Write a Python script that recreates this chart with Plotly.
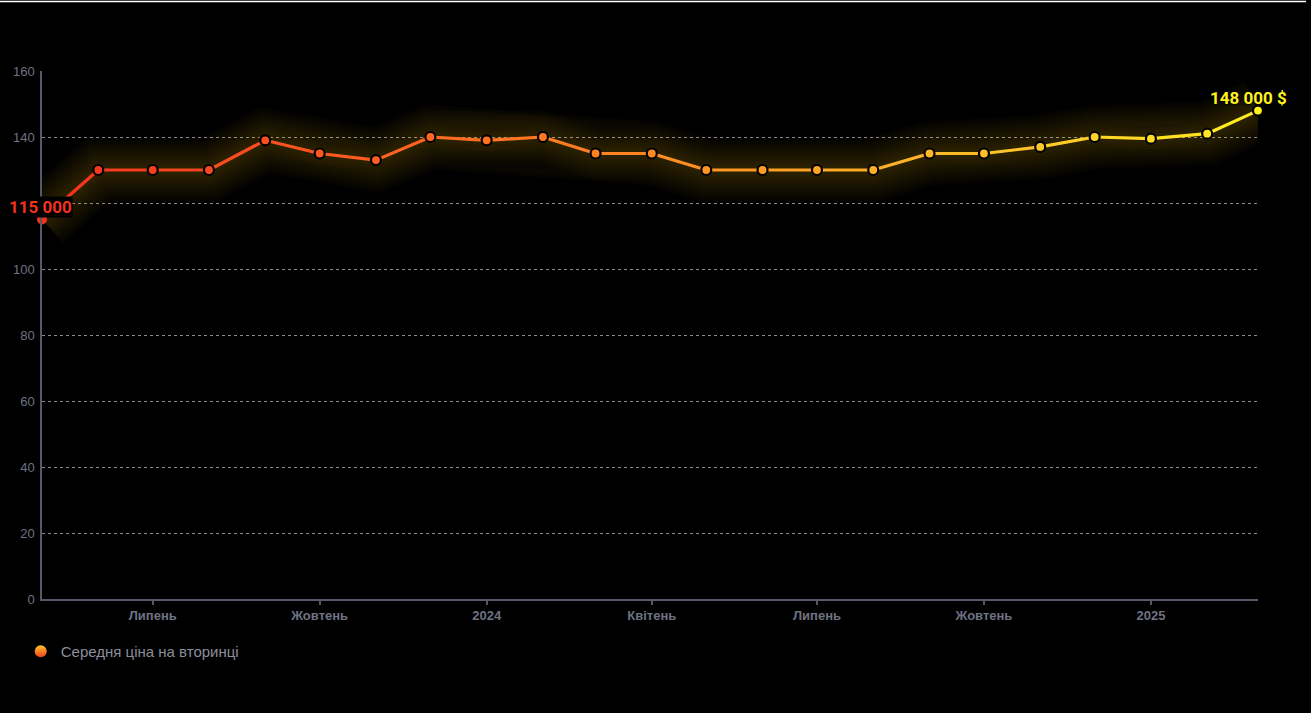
import plotly.graph_objects as go
from plotly.colors import sample_colorscale

# Monthly average price on the secondary market, thousands of $
months = [
    "2023-05-01", "2023-06-01", "2023-07-01", "2023-08-01", "2023-09-01",
    "2023-10-01", "2023-11-01", "2023-12-01", "2024-01-01", "2024-02-01",
    "2024-03-01", "2024-04-01", "2024-05-01", "2024-06-01", "2024-07-01",
    "2024-08-01", "2024-09-01", "2024-10-01", "2024-11-01", "2024-12-01",
    "2025-01-01", "2025-02-01", "2025-03-01",
]
price = [115, 130, 130, 130, 139, 135, 133, 140, 139, 140, 135, 135,
         130, 130, 130, 130, 135, 135, 137, 140, 139.5, 141, 148]

tick_dates = ["2023-07-01", "2023-10-01", "2024-01-01", "2024-04-01",
              "2024-07-01", "2024-10-01", "2025-01-01"]
tick_labels = ["Липень", "Жовтень", "2024", "Квітень", "Липень", "Жовтень", "2025"]
y_ticks = [0, 20, 40, 60, 80, 100, 120, 140, 160]

series_name = "Середня ціна на вторинці"
first_label = "115 000"
last_label = "148 000 $"

scale = [[0.0, "#f2321d"], [0.3, "#ff6420"], [0.55, "#ff9424"],
         [0.8, "#ffc42a"], [1.0, "#fff01e"]]
n = len(price)
pt_colors = sample_colorscale(scale, [i / (n - 1) for i in range(n)])

fig = go.Figure()

# soft glow under the line: many faint wide strokes stacked
for w in range(64, 4, -6):
    fig.add_trace(go.Scatter(
        x=months, y=price, mode="lines",
        line=dict(color="rgba(255,196,40,0.018)", width=w),
        hoverinfo="skip", showlegend=False))

# gradient line drawn segment by segment
for i in range(n - 1):
    seg_col = sample_colorscale(scale, [(i + 0.5) / (n - 1)])[0]
    fig.add_trace(go.Scatter(
        x=months[i:i + 2], y=price[i:i + 2], mode="lines",
        line=dict(color=seg_col, width=3.2),
        hoverinfo="skip", showlegend=False))

line_w = [0] + [2.2] * (n - 1)
fig.add_trace(go.Scatter(
    x=months, y=price, mode="markers", cliponaxis=False,
    marker=dict(size=10, color=pt_colors,
                line=dict(color="#000000", width=line_w)),
    showlegend=False,
    hovertemplate="%{x|%b %Y}: %{y}<extra></extra>"))

# legend entry
fig.add_trace(go.Scatter(
    x=[None], y=[None], mode="markers", name=series_name,
    marker=dict(size=13, color="#ffc52a",
                gradient=dict(type="vertical", color="#f2401d"),
                line=dict(width=0))))

fig.add_annotation(x=months[0], y=price[0], text=f"<b>{first_label}</b>",
                   showarrow=False, yshift=13, xshift=-2,
                   bgcolor="#000000", borderpad=0,
                   font=dict(family="Roboto, sans-serif", size=17,
                             color=pt_colors[0], shadow="0 0 3px #000, 0 0 2px #000"))
fig.add_annotation(x=months[-1], y=price[-1], text=f"<b>{last_label}</b>",
                   showarrow=False, yshift=13, xshift=-10,
                   font=dict(family="Roboto, sans-serif", size=17,
                             color=pt_colors[-1], shadow="0 0 3px #000, 0 0 2px #000"))

# thin frame edge across the top
fig.add_shape(type="line", xref="paper", yref="paper",
              x0=-0.04, x1=1.0395, y0=1 + 69.5 / 528, y1=1 + 69.5 / 528,
              line=dict(color="#ffffff", width=1.5))

axis_col = "#555867"
tick_col = "#6f7282"

fig.update_layout(
    width=1311, height=713,
    margin=dict(l=42, r=53, t=71, b=114),
    paper_bgcolor="#000000", plot_bgcolor="#000000",
    font=dict(family="Liberation Sans, Arial, sans-serif", color=tick_col),
    showlegend=True,
    legend=dict(orientation="h", x=-0.0175, xanchor="left", y=-0.068, yanchor="top",
                font=dict(size=15, color="#8b8e9c"), itemsizing="constant",
                bgcolor="rgba(0,0,0,0)"),
    xaxis=dict(
        type="date", range=["2023-05-01", "2025-03-01"],
        tickvals=tick_dates, ticktext=[f"<b>{t}</b>" for t in tick_labels],
        tickfont=dict(size=13, color=tick_col),
        showgrid=False, zeroline=False,
        showline=True, linecolor=axis_col, linewidth=1.5,
        ticks="outside", ticklen=4, tickcolor=axis_col, tickwidth=1.5,
    ),
    yaxis=dict(
        range=[0, 160], tickvals=y_ticks,
        tickfont=dict(size=13, color=tick_col),
        showgrid=True, gridcolor="#8a8a8a", griddash="3px,3px", gridwidth=0.8,
        zeroline=False,
        showline=True, linecolor=axis_col, linewidth=1.5,
        ticks="", ticklabelstandoff=3,
    ),
)

fig.write_html("out.html")
